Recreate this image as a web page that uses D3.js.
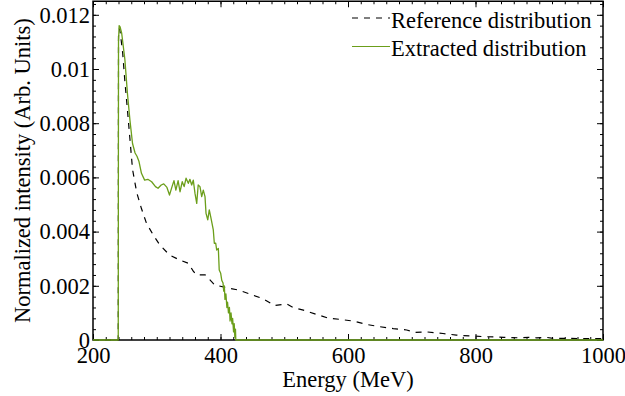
<!DOCTYPE html>
<html>
<head>
<meta charset="utf-8">
<script src="https://cdn.jsdelivr.net/npm/d3@7"></script>
<style>
  html, body { margin: 0; padding: 0; background: #fff; }
  svg { display: block; }
  text { font-family: "Liberation Serif", "Times New Roman", serif; fill: #000; }
</style>
</head>
<body>
<svg id="chart" width="625" height="396"></svg>
<script>
// Reference spectrum (dashed black)
const refEnergy = [200, 239.6, 240, 241.5, 243, 246.6, 250, 254, 258, 262, 268.5, 276, 284, 294.6, 305, 320, 336, 349.5, 357, 362, 376, 391, 410, 429, 449, 467, 485, 504, 514, 530, 551, 570, 588, 608, 630, 650, 671, 692, 705, 723, 749, 770, 791, 818, 844, 870, 883, 896, 910, 922, 948, 974, 1000];
const refIntensity = [0, 0, 0.0112, 0.0115, 0.0113, 0.01058, 0.00955, 0.0085, 0.0074, 0.0063, 0.00545, 0.00485, 0.0043, 0.00387, 0.0035, 0.00314, 0.00295, 0.00283, 0.00255, 0.0024, 0.0024, 0.00203, 0.00193, 0.00184, 0.00167, 0.00152, 0.00127, 0.00133, 0.0012, 0.0011, 0.00094, 0.0008, 0.00076, 0.0007, 0.00057, 0.00049, 0.00042, 0.00037, 0.00028, 0.0003, 0.00024, 0.00018, 0.00015, 0.00012, 0.0001, 0.00008, 0.0001, 0.00008, 0.0001, 0.00006, 0.00006, 0.00005, 0.00005];

// Extracted spectrum (solid green)
const extEnergy = [200, 239.6, 240, 241, 242.5, 245, 250, 254, 258, 262, 266, 269, 272, 276, 281, 286, 292, 298, 302, 307, 311, 316, 320, 324, 327, 330, 333.5, 336.5, 340, 343, 346, 349.5, 352, 354.8, 357.3, 360, 362.7, 365, 367.8, 370.5, 373, 375.7, 377.3, 380, 382.4, 384.6, 386.7, 388.7, 390.3, 392.5, 394, 396.6, 398, 400.3, 402, 404, 405, 406, 407, 408.5, 410, 411, 412.5, 414, 415, 416.5, 418, 419, 420.5, 421.5, 422.5, 423.5, 424, 1000];
const extIntensity = [0, 0, 0.0110, 0.0116, 0.01155, 0.01132, 0.01035, 0.0091, 0.0081, 0.00725, 0.0069, 0.00678, 0.0066, 0.00615, 0.0059, 0.00593, 0.00584, 0.00566, 0.0056, 0.00572, 0.00576, 0.00563, 0.00535, 0.00566, 0.00588, 0.00553, 0.00588, 0.00547, 0.00584, 0.00566, 0.00597, 0.00578, 0.00593, 0.00572, 0.0059, 0.00541, 0.00504, 0.00572, 0.00566, 0.00529, 0.00553, 0.00529, 0.00467, 0.00443, 0.0048, 0.00455, 0.0043, 0.00406, 0.00357, 0.00357, 0.00332, 0.00338, 0.00258, 0.00246, 0.0022, 0.0021, 0.0018, 0.002, 0.0015, 0.0017, 0.0012, 0.0014, 0.001, 0.0012, 0.0007, 0.001, 0.0006, 0.0008, 0.0003, 0.0006, 0.0001, 0.0004, 0, 0];

// Axis ticks
const xMajorTicks = [200, 400, 600, 800, 1000];
const xTickLabels = ["200", "400", "600", "800", "1000"];
const yMajorTicks = [0, 0.002, 0.004, 0.006, 0.008, 0.01, 0.012];
const yTickLabels = ["0", "0.002", "0.004", "0.006", "0.008", "0.01", "0.012"];

const legendLabels = ["Reference distribution", "Extracted distribution"];
const xTitle = "Energy (MeV)";
const yTitle = "Normalized intensity (Arb. Units)";

const GREEN = "#6b9e1a";
const svg = d3.select("#chart");
const L = 93, R = 603, T = 1.25, B = 340;

const x = d3.scaleLinear().domain([200, 1000]).range([L, R]);
const y = d3.scaleLinear().domain([0, 0.0125]).range([B, T]);

const xMinor = d3.range(200, 1000.1, 20);
const yMinor = d3.range(0, 0.01251, 0.0004);

const fontSize = 22.5;

function styleAxis(g) {
  g.select(".domain").remove();
  g.selectAll("line").attr("stroke", "#000").attr("stroke-width", 1);
  g.selectAll("text").style("font-size", fontSize + "px").style("font-family", '"Liberation Serif", serif');
}

// bottom axis
svg.append("g").attr("transform", `translate(0,${B})`)
  .call(d3.axisBottom(x).tickValues(xMinor).tickSize(-3).tickFormat(""))
  .call(styleAxis);
svg.append("g").attr("transform", `translate(0,${B})`)
  .call(d3.axisBottom(x).tickValues(xMajorTicks).tickSize(-6).tickPadding(7)
    .tickFormat((d, i) => xTickLabels[i]))
  .call(styleAxis);
// top axis (mirrored ticks)
svg.append("g").attr("transform", `translate(0,${T})`)
  .call(d3.axisTop(x).tickValues(xMinor).tickSize(-3).tickFormat(""))
  .call(styleAxis);
svg.append("g").attr("transform", `translate(0,${T})`)
  .call(d3.axisTop(x).tickValues(xMajorTicks).tickSize(-6).tickFormat(""))
  .call(styleAxis);
// left axis
svg.append("g").attr("transform", `translate(${L},0)`)
  .call(d3.axisLeft(y).tickValues(yMinor).tickSize(-3).tickFormat(""))
  .call(styleAxis);
svg.append("g").attr("transform", `translate(${L},0)`)
  .call(d3.axisLeft(y).tickValues(yMajorTicks).tickSize(-6).tickPadding(3)
    .tickFormat((d, i) => yTickLabels[i]))
  .call(styleAxis);
// right axis (mirrored ticks)
svg.append("g").attr("transform", `translate(${R},0)`)
  .call(d3.axisRight(y).tickValues(yMinor).tickSize(-3).tickFormat(""))
  .call(styleAxis);
svg.append("g").attr("transform", `translate(${R},0)`)
  .call(d3.axisRight(y).tickValues(yMajorTicks).tickSize(-6).tickFormat(""))
  .call(styleAxis);

// frame
svg.append("rect")
  .attr("x", L).attr("y", T).attr("width", R - L).attr("height", B - T)
  .attr("fill", "none").attr("stroke", "#000").attr("stroke-width", 1.5);

const line = d3.line().x(d => x(d[0])).y(d => y(d[1]));

const refData = refEnergy.map((e, i) => [e, refIntensity[i]]);
const extData = extEnergy.map((e, i) => [e, extIntensity[i]]);

svg.append("path").datum(refData)
  .attr("d", line).attr("fill", "none")
  .attr("stroke", "#000").attr("stroke-width", 1.2)
  .attr("stroke-dasharray", "6,6");

svg.append("path").datum(extData)
  .attr("d", line).attr("fill", "none")
  .attr("stroke", GREEN).attr("stroke-width", 1.3)
  .attr("stroke-linejoin", "round");

// legend
const legend = svg.append("g");
const legendItems = [
  { label: legendLabels[0], color: "#000", dash: "6,6", y: 18 },
  { label: legendLabels[1], color: GREEN, dash: null, y: 46.5 }
];
legendItems.forEach(it => {
  legend.append("line")
    .attr("x1", 352).attr("x2", 390).attr("y1", it.y).attr("y2", it.y)
    .attr("stroke", it.color).attr("stroke-width", 1.2)
    .attr("stroke-dasharray", it.dash);
  legend.append("text")
    .attr("x", 391).attr("y", it.y + 9.5)
    .style("font-size", fontSize + "px")
    .text(it.label);
});

// axis titles
svg.append("text")
  .attr("x", (L + R) / 2).attr("y", 387)
  .attr("text-anchor", "middle")
  .style("font-size", fontSize + "px")
  .text(xTitle);

svg.append("text")
  .attr("transform", `translate(30,${(T + B) / 2}) rotate(-90)`)
  .attr("text-anchor", "middle")
  .style("font-size", fontSize + "px")
  .text(yTitle);
</script>
</body>
</html>
